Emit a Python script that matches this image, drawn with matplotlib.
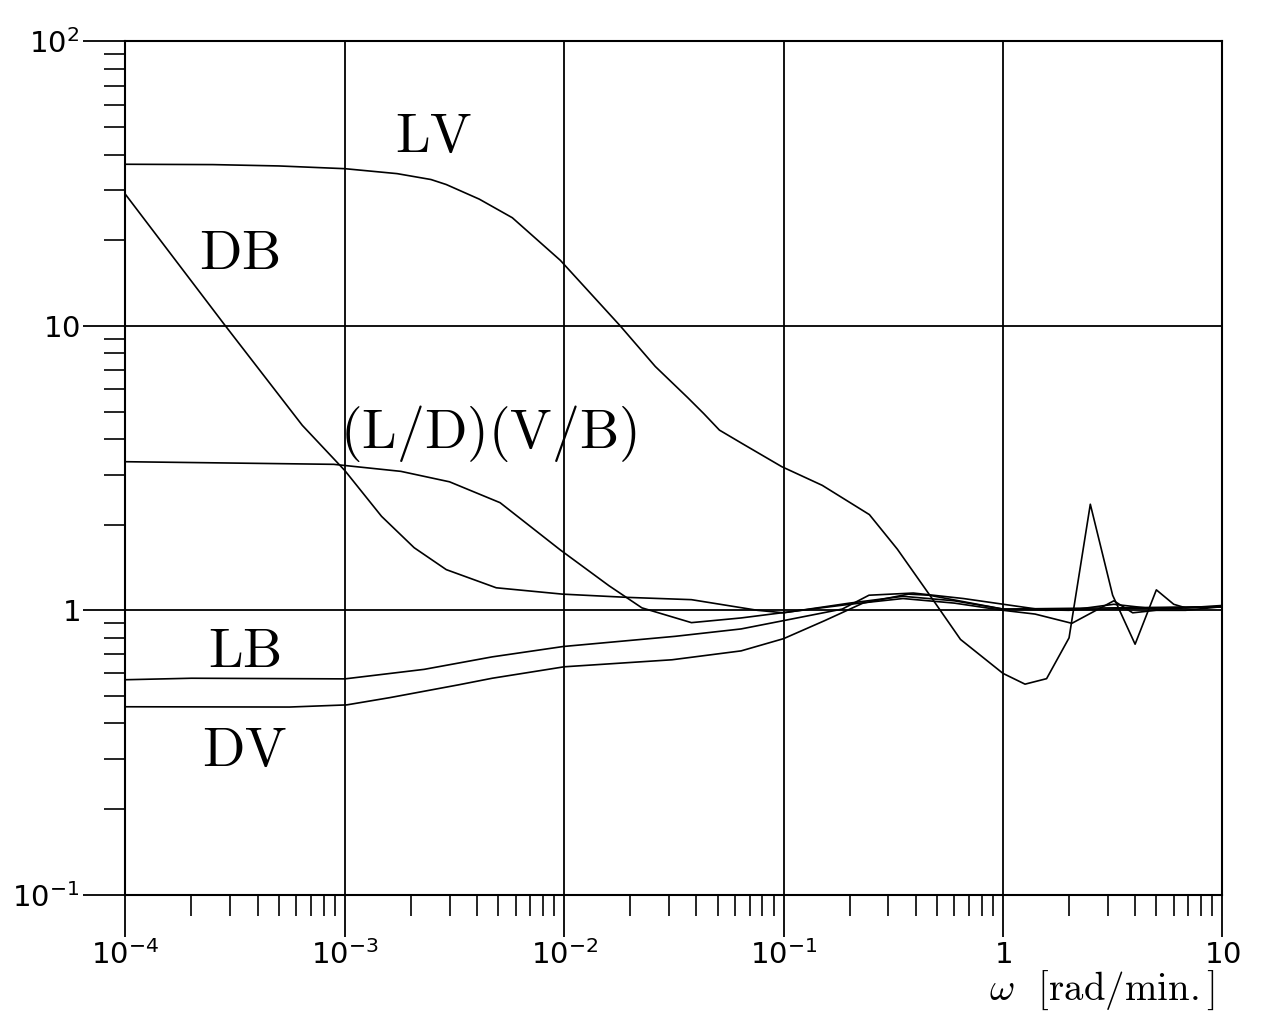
import matplotlib
matplotlib.use("Agg")
import matplotlib.pyplot as plt
from matplotlib.ticker import NullFormatter

# frequency [rad/min] and values
omega_lv = [1e-4, 2.5e-4, 5e-4, 1e-3, 1.73e-3, 2.47e-3, 2.9e-3, 4.1e-3, 5.8e-3, 9.6e-3,
            1.8e-2, 2.6e-2, 3.65e-2, 4.32e-2, 5.1e-2, 6.5e-2, 9.8e-2, 0.15, 0.246, 0.33,
            0.46, 0.64, 1.0, 1.26, 1.58, 2.0, 2.5, 3.16, 4.0, 5.0, 6.0, 6.8, 10]
lv = [37.0, 36.9, 36.5, 35.7, 34.3, 32.7, 31.4, 27.9, 24.0, 17.0,
      10.0, 7.2, 5.6, 4.92, 4.3, 3.85, 3.2, 2.75, 2.17, 1.64,
      1.14, 0.79, 0.60, 0.55, 0.575, 0.80, 2.36, 1.13, 0.76, 1.18, 1.05, 1.02, 1.04]

omega_db = [1e-4, 2.8e-4, 6.4e-4, 1e-3, 1.47e-3, 2.07e-3, 2.9e-3, 4.9e-3, 9.8e-3, 1.96e-2,
            3.8e-2, 7.6e-2, 0.1, 0.2, 0.35, 0.6, 1.0, 2.0, 3.2, 5.0, 10]
db = [29.0, 10.2, 4.47, 3.1, 2.14, 1.66, 1.39, 1.20, 1.14, 1.11,
      1.09, 1.0, 0.98, 1.06, 1.12, 1.08, 1.01, 1.0, 1.05, 1.01, 1.03]

omega_ldvb = [1e-4, 8.9e-4, 1.8e-3, 3.0e-3, 5.1e-3, 9.6e-3, 1.6e-2, 2.26e-2, 3.8e-2, 6.4e-2,
              9.8e-2, 0.2, 0.35, 0.6, 1.0, 1.4, 2.06, 3.2, 3.9, 5.0, 6.8, 10]
ldvb = [3.33, 3.26, 3.08, 2.83, 2.39, 1.63, 1.22, 1.02, 0.905, 0.94,
        0.98, 1.05, 1.10, 1.06, 1.0, 0.97, 0.90, 1.08, 0.98, 1.0, 1.0, 1.03]

omega_lb = [1e-4, 2e-4, 1e-3, 2.3e-3, 4.7e-3, 9.9e-3, 3.2e-2, 6.4e-2, 0.1, 0.185,
            0.245, 0.39, 0.66, 1.56, 10]
lb = [0.57, 0.577, 0.574, 0.62, 0.686, 0.746, 0.81, 0.86, 0.92, 1.01,
      1.13, 1.15, 1.10, 1.0, 1.03]

omega_dv = [1e-4, 5.6e-4, 1.02e-3, 1.6e-3, 3.3e-3, 4.7e-3, 1.0e-2, 3.1e-2, 6.4e-2, 0.1,
            0.154, 0.23, 0.37, 0.46, 1.0, 10]
dv = [0.458, 0.457, 0.465, 0.493, 0.547, 0.577, 0.633, 0.67, 0.72, 0.795,
      0.92, 1.06, 1.14, 1.13, 1.01, 1.03]

xticks = [1e-4, 1e-3, 1e-2, 1e-1, 1, 10]
xtick_labels = ["$10^{-4}$", "$10^{-3}$", "$10^{-2}$", "$10^{-1}$", "$1$", "$10$"]
yticks = [0.1, 1, 10, 100]
ytick_labels = ["$10^{-1}$", "$1$", "$10$", "$10^{2}$"]

fig = plt.figure(figsize=(12.8, 10.11), dpi=100)
ax = fig.add_axes([0.098, 0.115, 0.857, 0.844])

for w, val in [(omega_lv, lv), (omega_db, db), (omega_ldvb, ldvb), (omega_lb, lb), (omega_dv, dv)]:
    ax.plot(w, val, color="black", lw=1.2)

ax.set_xscale("log")
ax.set_yscale("log")
ax.set_xlim(1e-4, 10)
ax.set_ylim(0.1, 100)

ax.set_xticks(xticks, xtick_labels)
ax.set_yticks(yticks, ytick_labels)
ax.xaxis.set_minor_formatter(NullFormatter())
ax.yaxis.set_minor_formatter(NullFormatter())
ax.grid(True, which="major", color="black", lw=1.3)
ax.tick_params(which="major", direction="out", length=30, width=1.3, labelsize=21, pad=3, colors="black")
ax.tick_params(which="minor", direction="out", length=15, width=1.2)
for s in ax.spines.values():
    s.set_linewidth(1.5)

# curve names, Computer Modern like the original
lab = dict(fontsize=40, math_fontfamily="cm", ha="center", va="center")
ax.text(2.55e-3, 46, r"$\mathrm{LV}$", **lab)
ax.text(3.3e-4, 17.9, r"$\mathrm{DB}$", **lab)
ax.text(4.5e-3, 4.2, r"$\mathrm{(L/D)(V/B)}$", **lab)
ax.text(3.5e-4, 0.715, r"$\mathrm{LB}$", **lab)
ax.text(3.5e-4, 0.32, r"$\mathrm{DV}$", **lab)

fig.text(1215 / 1280, 1 - 1000 / 1011, r"$\omega$  $\mathrm{[rad/min.]}$",
         fontsize=28, math_fontfamily="cm", ha="right", va="baseline")

fig.savefig("out.png", dpi=100)
